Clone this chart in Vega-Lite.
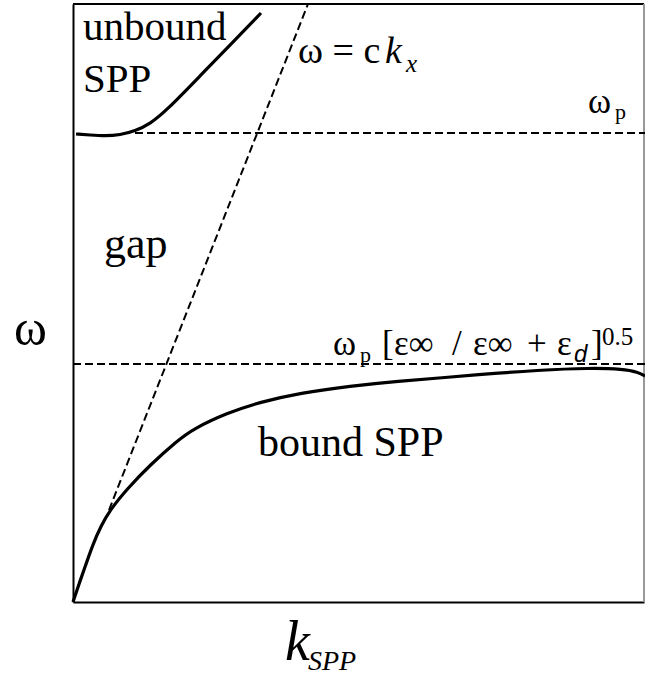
{
  "$schema": "https://vega.github.io/schema/vega-lite/v6.json",
  "width": 571,
  "height": 598,
  "autosize": {"type": "none"},
  "padding": {"left": 73, "top": 4, "right": 1, "bottom": 80},
  "background": "white",
  "config": {
    "view": {"stroke": null},
    "axis": {"domain": true, "domainColor": "#000", "domainWidth": 2, "ticks": false, "labels": false, "grid": false, "title": null}
  },
  "datasets": {
    "solid": [
      {"s": "bound", "o": 1, "x": 0, "y": 0},
      {"s": "bound", "o": 2, "x": 6, "y": 18},
      {"s": "bound", "o": 3, "x": 12, "y": 35},
      {"s": "bound", "o": 4, "x": 20, "y": 58},
      {"s": "bound", "o": 5, "x": 28, "y": 76},
      {"s": "bound", "o": 6, "x": 37, "y": 92},
      {"s": "bound", "o": 7, "x": 54, "y": 113},
      {"s": "bound", "o": 8, "x": 77, "y": 137},
      {"s": "bound", "o": 9, "x": 104, "y": 161},
      {"s": "bound", "o": 10, "x": 120, "y": 173},
      {"s": "bound", "o": 11, "x": 154, "y": 189},
      {"s": "bound", "o": 12, "x": 187, "y": 200},
      {"s": "bound", "o": 13, "x": 227, "y": 209},
      {"s": "bound", "o": 14, "x": 277, "y": 216},
      {"s": "bound", "o": 15, "x": 327, "y": 221},
      {"s": "bound", "o": 16, "x": 367, "y": 224},
      {"s": "bound", "o": 17, "x": 400, "y": 227},
      {"s": "bound", "o": 18, "x": 467, "y": 232},
      {"s": "bound", "o": 19, "x": 517, "y": 234},
      {"s": "bound", "o": 20, "x": 550, "y": 233},
      {"s": "bound", "o": 21, "x": 565, "y": 230},
      {"s": "bound", "o": 22, "x": 572, "y": 226},
      {"s": "unbound", "o": 1, "x": 3, "y": 468},
      {"s": "unbound", "o": 2, "x": 17, "y": 467},
      {"s": "unbound", "o": 3, "x": 32, "y": 466},
      {"s": "unbound", "o": 4, "x": 47, "y": 467},
      {"s": "unbound", "o": 5, "x": 62, "y": 471},
      {"s": "unbound", "o": 6, "x": 77, "y": 478},
      {"s": "unbound", "o": 7, "x": 94, "y": 492},
      {"s": "unbound", "o": 8, "x": 127, "y": 526},
      {"s": "unbound", "o": 9, "x": 160, "y": 560},
      {"s": "unbound", "o": 10, "x": 188, "y": 589}
    ],
    "dashed": [
      {"s": "light", "o": 1, "x": 36, "y": 92},
      {"s": "light", "o": 2, "x": 235, "y": 598},
      {"s": "wp", "o": 1, "x": 62, "y": 469},
      {"s": "wp", "o": 2, "x": 572, "y": 469},
      {"s": "wsp", "o": 1, "x": 0, "y": 238},
      {"s": "wsp", "o": 2, "x": 572, "y": 238}
    ],
    "frame": [
      {"x": 0, "x2": 571, "y": 598, "y2": 598, "c": "#000"},
      {"x": 571, "x2": 571, "y": 0, "y2": 598, "c": "#999"}
    ],
    "upright": [
      {"t": "unbound", "x": 10, "y": 562, "f": 41},
      {"t": "SPP", "x": 10, "y": 510, "f": 41},
      {"t": "ω = c", "x": 225, "y": 539, "f": 38},
      {"t": "ω", "x": 515, "y": 489, "f": 35},
      {"t": "p", "x": 542, "y": 483, "f": 22},
      {"t": "gap", "x": 31, "y": 344, "f": 44},
      {"t": "bound SPP", "x": 185, "y": 146, "f": 42},
      {"t": "ω", "x": 260, "y": 247, "f": 35},
      {"t": "p", "x": 287, "y": 240, "f": 22},
      {"t": "[", "x": 309, "y": 247, "f": 35},
      {"t": "ε∞", "x": 321, "y": 247, "f": 35},
      {"t": "/", "x": 379, "y": 247, "f": 35},
      {"t": "ε∞", "x": 400, "y": 247, "f": 35},
      {"t": "+", "x": 454, "y": 247, "f": 35},
      {"t": "ε", "x": 484, "y": 247, "f": 35},
      {"t": "]", "x": 518, "y": 247, "f": 35},
      {"t": "0.5", "x": 529, "y": 257, "f": 25},
      {"t": "ω", "x": -59, "y": 257, "f": 50}
    ],
    "italic": [
      {"t": "k", "x": 312, "y": 539, "f": 38},
      {"t": "x", "x": 333, "y": 530, "f": 25},
      {"t": "k", "x": 212, "y": -58, "f": 56},
      {"t": "SPP", "x": 235, "y": -68, "f": 28}
    ],
    "sans": [
      {"t": "d", "x": 501, "y": 240, "f": 24}
    ]
  },
  "layer": [
    {
      "data": {"name": "frame"},
      "mark": {"type": "rule", "strokeWidth": 2},
      "encoding": {
        "x": {"field": "x", "type": "quantitative", "scale": {"domain": [0, 571], "nice": false, "zero": false}, "axis": {"orient": "bottom"}},
        "x2": {"field": "x2"},
        "y": {"field": "y", "type": "quantitative", "scale": {"domain": [0, 598], "nice": false, "zero": false}, "axis": {"orient": "left"}},
        "y2": {"field": "y2"},
        "color": {"field": "c", "type": "nominal", "scale": null}
      }
    },
    {
      "data": {"name": "dashed"},
      "mark": {"type": "line", "color": "#000", "strokeWidth": 2, "strokeDash": [8, 4]},
      "encoding": {
        "x": {"field": "x", "type": "quantitative"},
        "y": {"field": "y", "type": "quantitative"},
        "detail": {"field": "s", "type": "nominal"},
        "order": {"field": "o", "type": "quantitative"}
      }
    },
    {
      "data": {"name": "solid"},
      "mark": {"type": "line", "color": "#000", "strokeWidth": 3.2, "interpolate": "basis"},
      "encoding": {
        "x": {"field": "x", "type": "quantitative"},
        "y": {"field": "y", "type": "quantitative"},
        "detail": {"field": "s", "type": "nominal"},
        "order": {"field": "o", "type": "quantitative"}
      }
    },
    {
      "data": {"name": "upright"},
      "mark": {"type": "text", "font": "Times New Roman", "align": "left", "baseline": "alphabetic"},
      "encoding": {
        "x": {"field": "x", "type": "quantitative"},
        "y": {"field": "y", "type": "quantitative"},
        "text": {"field": "t"},
        "size": {"field": "f", "type": "quantitative", "scale": null}
      }
    },
    {
      "data": {"name": "italic"},
      "mark": {"type": "text", "font": "Times New Roman", "fontStyle": "italic", "align": "left", "baseline": "alphabetic"},
      "encoding": {
        "x": {"field": "x", "type": "quantitative"},
        "y": {"field": "y", "type": "quantitative"},
        "text": {"field": "t"},
        "size": {"field": "f", "type": "quantitative", "scale": null}
      }
    },
    {
      "data": {"name": "sans"},
      "mark": {"type": "text", "font": "Liberation Sans", "fontStyle": "italic", "align": "left", "baseline": "alphabetic"},
      "encoding": {
        "x": {"field": "x", "type": "quantitative"},
        "y": {"field": "y", "type": "quantitative"},
        "text": {"field": "t"},
        "size": {"field": "f", "type": "quantitative", "scale": null}
      }
    }
  ]
}
